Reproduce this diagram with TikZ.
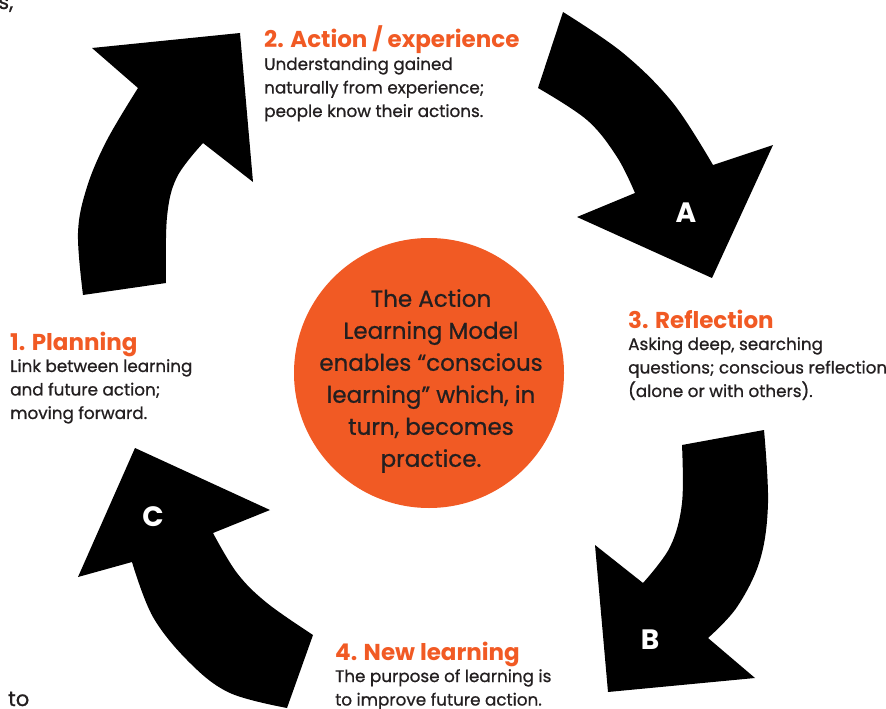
\documentclass[tikz,border=0pt]{standalone}
\usepackage{fontspec}
\setmainfont{Poppins}
\newfontfamily\medfont[FakeBold=0.8]{Poppins}
\definecolor{orng}{HTML}{F15A24}
\definecolor{txt}{HTML}{231F20}
\tikzset{
  title/.style={anchor=base west, inner sep=0pt, text=orng, font=\fontsize{23}{26}\selectfont\bfseries},
  body/.style={anchor=north west, inner sep=0pt, align=left, text=txt, font=\medfont\fontsize{16.8}{23.5}\selectfont},
  letter/.style={text=white, font=\fontsize{28}{30}\selectfont\bfseries, inner sep=0pt},
  frag/.style={anchor=base west, inner sep=0pt, text=txt, font=\medfont\fontsize{21}{24}\selectfont},
  blk/.style={fill=black},
}
\begin{document}
\begin{tikzpicture}[x=1pt,y=-1pt]
\useasboundingbox (0,0) rectangle (886,709);
\begin{scope}
\clip (0,0) rectangle (886,709);
% fragments
\node[frag] (fragA) at (-2,9) {s,};
\node[frag] (fragB) at (-5,36) {l};
\node[frag] (fragC) at (8,706) {to};
% arrow 1 (top-left, up)
\fill[blk] plot[smooth, tension=0.6] coordinates {(83,295) (78,233) (87,187) (107,140) (138,88)}
  -- (92,48) -- (240,33) -- (253,182)
  -- plot[smooth, tension=0.6] coordinates {(203,143) (177,177) (167,217) (166,283)} -- cycle;
% arrow A (top-right)
\fill[blk] plot[smooth, tension=0.6] coordinates {(563,12) (623,53) (673,103) (713,165)}
  -- (773,145) -- (712,278) -- (577,217)
  -- plot[smooth, tension=0.6] coordinates {(635,193) (617,157) (587,120) (538,88)} -- cycle;
% arrow B (bottom-right)
\fill[blk] plot[smooth, tension=0.6] coordinates {(764,430) (768,503) (760,560) (737,607) (708,638)}
  -- (755,678) -- (608,692) -- (595,545)
  -- plot[smooth, tension=0.6] coordinates {(643,583) (670,547) (682,503) (682,445)} -- cycle;
% arrow C (bottom-left)
\fill[blk] plot[smooth, tension=0.6] coordinates {(313,635) (267,603) (237,573) (213,533)}
  -- (270,510) -- (135,448) -- (78,577)
  -- plot[smooth, tension=0.6] coordinates {(132,562) (153,617) (190,663) (230,693) (287,708)} -- cycle;
\end{scope}
\node[letter] (lA) at (686,213) {A};
\node[letter] (lB) at (650,640) {B};
\node[letter] (lC) at (153,517) {C};
% centre circle
\node[circle, fill=orng, minimum size=270pt, inner sep=0pt] (hub) at (429,373) {};
\node[align=center, text=txt, font=\medfont\fontsize{23}{32}\selectfont, inner sep=0pt] (hubtext) at (431,381) {The Action\\Learning Model\\enables “conscious\\learning” which, in\\turn, becomes\\practice.};
% labels
\node[title] (t2) at (264,48) {2. Action / experience};
\node[body] (b2) at (264,57) {Understanding gained\\naturally from experience;\\people know their actions.};
\node[title] (t1) at (10,350) {1. Planning};
\node[body] (b1) at (10,359) {Link between learning\\and future action;\\moving forward.};
\node[title] (t3) at (628,328) {3. Reflection};
\node[body] (b3) at (628,337) {Asking deep, searching\\questions; conscious reflection\\(alone or with others).};
\node[title] (t4) at (335,660) {4. New learning};
\node[body] (b4) at (335,669) {The purpose of learning is\\to improve future action.};
\end{tikzpicture}
\end{document}
